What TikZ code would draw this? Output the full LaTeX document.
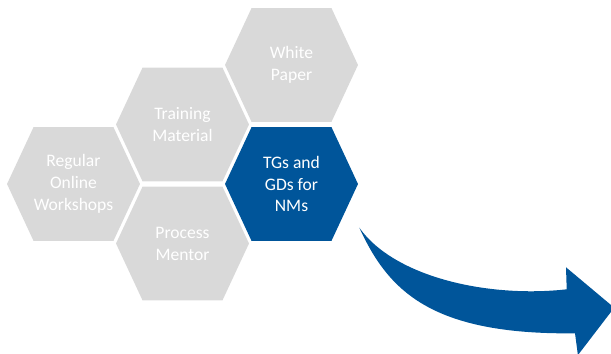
\documentclass[tikz,border=0pt]{standalone}
\usepackage{fontspec}
\setmainfont{Carlito}
\usetikzlibrary{shapes.symbols}
\definecolor{cellgray}{HTML}{D9D9D9}
\definecolor{hiblue}{HTML}{00559A}

\begin{document}
\begin{tikzpicture}[
  x=0.02cm, y=0.02cm,
  every node/.style={font=\fontsize{10}{12.5}\selectfont},
  cell/.style={signal,signal to=west and east,signal pointer angle=130,
    minimum width=2.66cm,minimum height=2.28cm,inner sep=0pt,outer sep=0pt,
    fill=cellgray,text=white,align=center},
  focus cell/.style={cell,fill=hiblue},
]
\useasboundingbox (0,0) rectangle (611,354);
\clip (0,0) rectangle (611,354);
\node[cell] (workshops) at (73.5,170) {Regular\\Online\\Workshops};
\node[cell] (training) at (182.5,229.5) {Training\\Material};
\node[cell] (mentor) at (182.5,110.5) {Process\\Mentor};
\node[cell] (paper) at (291.5,289) {White\\Paper};
\node[focus cell] (tgs) at (291.5,170) {TGs and\\GDs for\\NMs};
% curved block arrow
\coordinate (tail) at (359.3,126.3);
\coordinate (shaft top) at (566.7,64.7);
\coordinate (shaft bottom) at (575,20.7);
\fill[hiblue] (tail) .. controls (395,76) and (490,56) .. (shaft top)
  -- (566,86.7) -- (614.2,46.3) -- (577.9,-1.1) -- (shaft bottom)
  .. controls (430,19) and (388,64) .. (tail) -- cycle;
\end{tikzpicture}
\end{document}
